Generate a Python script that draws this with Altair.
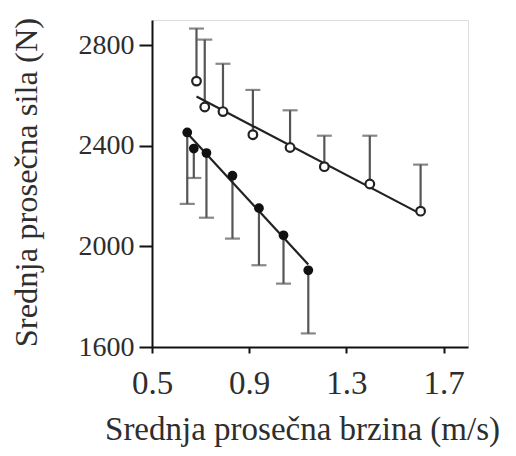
import altair as alt
import pandas as pd

# Open circles (upper series), error bars extend upward
open_x = [0.683, 0.717, 0.792, 0.915, 1.068, 1.209, 1.396, 1.605]
open_y = [2657, 2554, 2536, 2444, 2393, 2317, 2248, 2140]
open_err = [2866, 2822, 2726, 2622, 2541, 2440, 2440, 2325]

# Filled circles (lower series), error bars extend downward
filled_x = [0.645, 0.672, 0.724, 0.831, 0.940, 1.041, 1.143]
filled_y = [2453, 2389, 2371, 2281, 2152, 2044, 1905]
filled_err = [2169, 2272, 2114, 2031, 1925, 1852, 1654]

x_ticks = [0.5, 0.9, 1.3, 1.7]
y_ticks = [1600, 2000, 2400, 2800]

df = pd.DataFrame({
    "x": open_x + filled_x,
    "y": open_y + filled_y,
    "err": open_err + filled_err,
    "series": ["open"] * len(open_x) + ["filled"] * len(filled_x),
})

FONT = "Liberation Serif"
TXT = "#2e2e2e"

xs = alt.Scale(domain=[0.5, 1.8], nice=False, zero=False)
ys = alt.Scale(domain=[1600, 2900], nice=False, zero=False)

x_enc = alt.X("x:Q", scale=xs, axis=alt.Axis(
    values=x_ticks, format=".1f", title="Srednja prosečna brzina (m/s)",
    labelFont=FONT, labelFontSize=33, labelColor=TXT, labelPadding=14,
    labelFlush=False,
    titleFont=FONT, titleFontSize=33, titleColor=TXT, titleFontWeight="normal",
    titlePadding=13, titleX=150, domainColor="#111", domainWidth=2,
    tickColor="#111", tickWidth=2, tickSize=6, grid=False))
y_enc = alt.Y("y:Q", scale=ys, axis=alt.Axis(
    values=y_ticks, format="d", title="Srednja prosečna sila (N)",
    labelFont=FONT, labelFontSize=28, labelColor=TXT, labelPadding=5,
    labelFlush=False,
    titleFont=FONT, titleFontSize=32.5, titleColor=TXT, titleFontWeight="normal",
    titlePadding=35, titleY=162, domainColor="#111", domainWidth=2,
    tickColor="#111", tickWidth=2, tickSize=13, grid=False))

base = alt.Chart(df)

bars = base.mark_rule(color="#555", strokeWidth=2.2).encode(
    x=x_enc, y=y_enc, y2="err:Q")
caps = base.mark_tick(color="#555", thickness=2.2, size=15, orient="horizontal").encode(
    x="x:Q", y="err:Q")

reg = base.transform_regression("x", "y", groupby=["series"]).mark_line(
    color="#222", strokeWidth=2.2).encode(x="x:Q", y="y:Q", detail="series:N")

pts_filled = base.transform_filter(alt.datum.series == "filled").mark_point(
    filled=True, color="#111", size=95, opacity=1).encode(x="x:Q", y="y:Q")
pts_open = base.transform_filter(alt.datum.series == "open").mark_point(
    filled=True, fill="white", stroke="#222", strokeWidth=2.2, size=75, opacity=1
).encode(x="x:Q", y="y:Q")

chart = alt.layer(bars, caps, reg, pts_filled, pts_open).properties(
    width=316, height=327,
    autosize=alt.AutoSizeParams(type="none"),
    padding={"left": 144, "top": 12, "right": 40, "bottom": 101},
).configure_view(stroke=None).configure(background="white")

chart.save("out.html", embed_options={"renderer": "svg", "actions": False})
